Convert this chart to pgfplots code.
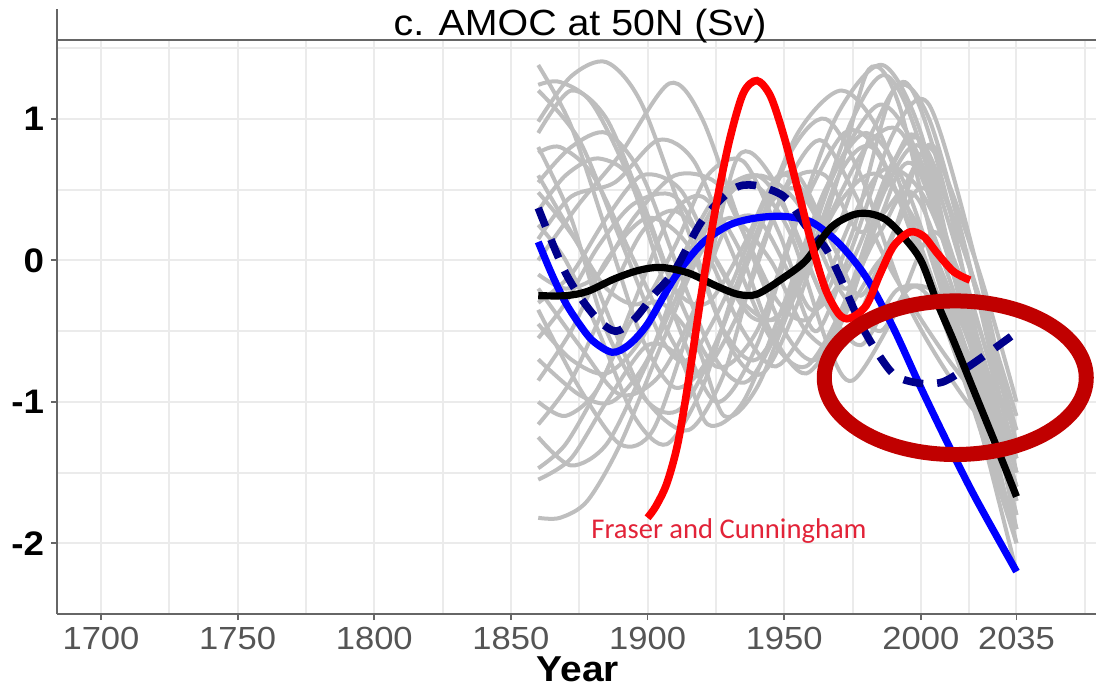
\documentclass[border=0pt]{standalone}
\usepackage{fontspec}
\setmainfont{Liberation Sans}[FakeStretch=1.08]
\newfontfamily\calibri{Carlito}
\usepackage{pgfplots}
\pgfplotsset{compat=1.18}

\definecolor{gridgray}{HTML}{EBEBEB}
\definecolor{axisgray}{HTML}{666666}
\definecolor{labgray}{HTML}{555555}
\definecolor{runs}{HTML}{BEBEBE}
\definecolor{navydash}{HTML}{00008B}
\definecolor{ellred}{HTML}{C00000}
\definecolor{txtred}{RGB}{226,35,56}

\begin{document}
\begin{tikzpicture}
\begin{axis}[
  at={(28.5pt,36.5pt)}, anchor=south west,
  scale only axis, width=519.5pt, height=287pt,
  xmin=1683.9, xmax=2064.1, ymin=-2.5, ymax=1.557,
  axis lines*=left,
  axis line style={-, axisgray, line width=0.9pt},
  xtick={1700,1750,1800,1850,1900,1950,2000,2035},
  xticklabels={1700,1750,1800,1850,1900,1950,2000,2035},
  ytick={-2,-1,0,1},
  yticklabels={-2,-1,0,1},
  minor xtick={1725,1775,1825,1875,1925,1975,2017.5,2060},
  minor ytick={-2.5,-1.5,-0.5,0.5,1.5},
  grid=both,
  major grid style={gridgray, line width=1pt},
  minor grid style={gridgray, line width=1pt},
  tick align=outside, major tick length=3pt, minor tick length=0pt,
  tick style={axisgray, line width=0.9pt},
  xticklabel style={font=\fontsize{16}{17}\selectfont, text=labgray},
  yticklabel style={font=\fontsize{17}{18}\selectfont\bfseries, text=black},
  clip=false,
  every axis plot/.append style={no markers, smooth},
]
% model runs
\addplot[runs, line width=2pt] coordinates {(1860,1.38)(1872,0.95)(1885,0.2)(1898,-0.55)(1910,-0.9)(1922,-0.7)(1937,0.0)(1952,0.75)(1965,1.0)(1978,0.6)(1995,-0.3)(2015,-0.95)(2035,-1.4)};
\addplot[runs, line width=2pt] coordinates {(1860,1.24)(1868,1.26)(1880,1.1)(1895,0.5)(1910,-0.4)(1925,-1.0)(1940,-0.6)(1955,0.3)(1970,1.05)(1986,1.38)(2000,0.9)(2015,-0.3)(2035,-1.8)};
\addplot[runs, line width=2pt] coordinates {(1860,1.2)(1875,0.85)(1890,0.15)(1905,-0.55)(1915,-0.7)(1930,-0.2)(1945,0.5)(1955,0.6)(1968,0.1)(1978,-0.25)(1990,0.2)(2003,0.8)(2020,0.0)(2035,-1.0)};
\addplot[runs, line width=2pt] coordinates {(1860,0.98)(1872,1.3)(1885,1.4)(1898,1.1)(1915,0.2)(1930,-0.6)(1942,-0.8)(1955,-0.3)(1970,0.6)(1981,1.35)(1992,1.1)(2010,-0.3)(2035,-1.7)};
\addplot[runs, line width=2pt] coordinates {(1860,0.8)(1872,0.3)(1885,-0.5)(1900,-1.0)(1912,-1.05)(1925,-0.6)(1940,0.2)(1955,0.9)(1971,1.2)(1985,0.9)(2000,0.1)(2018,-0.9)(2035,-1.9)};
\addplot[runs, line width=2pt] coordinates {(1860,0.76)(1868,0.8)(1880,0.6)(1895,0.0)(1910,-0.6)(1920,-0.8)(1935,-0.3)(1950,0.5)(1963,0.85)(1975,0.5)(1990,-0.1)(2010,-0.7)(2035,-1.3)};
\addplot[runs, line width=2pt] coordinates {(1860,0.55)(1872,0.8)(1885,0.9)(1898,0.6)(1912,-0.1)(1925,-0.7)(1937,-0.85)(1952,-0.3)(1968,0.6)(1985,1.1)(2000,0.7)(2017,-0.4)(2035,-1.6)};
\addplot[runs, line width=2pt] coordinates {(1860,0.48)(1875,0.1)(1888,-0.5)(1900,-1.0)(1915,-1.2)(1928,-0.8)(1940,0.0)(1952,0.55)(1965,0.6)(1978,0.2)(1993,0.5)(2005,0.8)(2020,-0.2)(2035,-1.2)};
\addplot[runs, line width=2pt] coordinates {(1860,0.35)(1870,0.6)(1882,0.72)(1895,0.55)(1910,-0.2)(1925,-0.75)(1940,-0.5)(1955,0.3)(1972,0.9)(1985,0.75)(2000,0.0)(2017,-0.9)(2035,-1.9)};
\addplot[runs, line width=2pt] coordinates {(1860,0.15)(1872,0.45)(1888,0.55)(1904,0.85)(1917,0.7)(1930,0.1)(1945,-0.55)(1958,-0.75)(1972,-0.3)(1987,0.5)(2000,0.8)(2017,0.0)(2035,-1.1)};
\addplot[runs, line width=2pt] coordinates {(1860,0.0)(1875,0.4)(1890,0.75)(1908,1.25)(1920,1.0)(1935,0.2)(1950,-0.5)(1962,-0.7)(1975,-0.2)(1988,0.6)(2000,0.85)(2017,0.0)(2035,-1.3)};
\addplot[runs, line width=2pt] coordinates {(1860,-0.1)(1870,-0.2)(1882,-0.1)(1895,0.3)(1910,0.6)(1925,0.55)(1935,0.2)(1948,-0.3)(1960,-0.4)(1975,0.2)(1990,1.2)(2003,1.0)(2020,-0.2)(2035,-1.5)};
\addplot[runs, line width=2pt] coordinates {(1860,-0.2)(1875,-0.6)(1890,-0.95)(1905,-0.8)(1920,-0.2)(1933,0.73)(1945,0.6)(1958,0.0)(1970,-0.4)(1985,0.0)(2000,0.2)(2018,-0.6)(2035,-1.6)};
\addplot[runs, line width=2pt] coordinates {(1860,-0.3)(1872,-0.1)(1885,0.3)(1898,0.6)(1912,0.5)(1925,0.0)(1938,-0.4)(1950,-0.35)(1965,0.25)(1980,0.8)(1993,0.9)(2010,0.1)(2035,-1.8)};
\addplot[runs, line width=2pt] coordinates {(1860,-0.45)(1872,-0.7)(1885,-0.8)(1898,-0.55)(1912,0.0)(1925,0.45)(1940,0.6)(1952,0.3)(1965,-0.3)(1978,-0.6)(1992,-0.2)(2010,-0.3)(2035,-1.2)};
\addplot[runs, line width=2pt] coordinates {(1860,-0.55)(1870,-0.3)(1882,0.1)(1895,0.4)(1910,0.45)(1923,0.0)(1935,-0.5)(1947,-0.75)(1960,-0.4)(1975,0.3)(1988,0.65)(2005,0.3)(2035,-1.5)};
\addplot[runs, line width=2pt] coordinates {(1860,-0.7)(1875,-0.95)(1887,-1.0)(1900,-0.7)(1912,-0.1)(1925,0.4)(1938,0.55)(1952,0.2)(1966,-0.6)(1975,-0.85)(1990,-0.4)(2005,0.2)(2020,-0.4)(2035,-1.4)};
\addplot[runs, line width=2pt] coordinates {(1860,-0.85)(1872,-0.5)(1885,0.0)(1900,0.3)(1915,0.1)(1928,-0.5)(1940,-0.7)(1955,-0.2)(1970,0.6)(1982,0.8)(1995,0.3)(2015,-0.8)(2035,-2.0)};
\addplot[runs, line width=2pt] coordinates {(1860,-1.0)(1870,-1.1)(1882,-0.9)(1895,-0.3)(1908,0.3)(1920,0.45)(1933,0.1)(1945,-0.5)(1958,-0.8)(1972,-0.4)(1985,0.3)(2000,0.6)(2035,-1.7)};
\addplot[runs, line width=2pt] coordinates {(1860,-1.16)(1872,-0.85)(1885,-0.3)(1898,0.2)(1910,0.35)(1922,0.1)(1935,-0.3)(1948,-0.4)(1960,0.2)(1975,1.0)(1988,1.3)(2003,0.6)(2035,-2.0)};
\addplot[runs, line width=2pt] coordinates {(1860,-1.25)(1872,-1.45)(1885,-1.3)(1898,-0.8)(1912,-0.2)(1925,0.35)(1940,0.6)(1955,0.4)(1970,-0.2)(1985,-0.5)(2000,-0.2)(2035,-1.2)};
\addplot[runs, line width=2pt] coordinates {(1860,-1.47)(1870,-1.3)(1882,-0.9)(1895,-0.4)(1905,-0.3)(1918,-0.6)(1928,-1.1)(1940,-0.9)(1955,-0.2)(1970,0.4)(1985,0.6)(2005,0.0)(2035,-1.7)};
\addplot[runs, line width=2pt] coordinates {(1860,-1.55)(1872,-1.4)(1885,-1.0)(1900,-0.6)(1912,-0.7)(1922,-1.16)(1935,-1.0)(1950,-0.3)(1965,0.5)(1980,0.9)(1995,0.5)(2015,-0.7)(2035,-2.2)};
\addplot[runs, line width=2pt] coordinates {(1860,-1.82)(1868,-1.82)(1878,-1.7)(1890,-1.3)(1905,-0.6)(1918,0.0)(1930,0.3)(1945,0.0)(1958,-0.5)(1972,-0.6)(1988,0.1)(2002,0.5)(2020,-0.5)(2035,-1.5)};
\addplot[runs, line width=2pt] coordinates {(1860,0.25)(1870,0.0)(1882,-0.5)(1895,-1.1)(1907,-1.3)(1920,-0.9)(1932,-0.2)(1945,0.4)(1955,0.5)(1968,0.2)(1982,0.9)(1995,1.25)(2010,0.4)(2035,-1.9)};
\addplot[runs, line width=2pt] coordinates {(1860,0.6)(1872,0.2)(1885,-0.2)(1898,-0.3)(1910,0.1)(1922,0.6)(1935,0.7)(1948,0.2)(1960,-0.35)(1975,0.0)(1990,0.7)(2002,0.75)(2035,-1.4)};
\addplot[runs, line width=2pt] coordinates {(1860,-0.35)(1875,-0.9)(1890,-1.3)(1902,-1.2)(1915,-0.5)(1928,0.2)(1940,0.3)(1952,-0.1)(1962,-0.5)(1975,0.1)(1990,0.9)(2003,1.1)(2020,0.0)(2035,-1.3)};
\addplot[runs, line width=2pt] coordinates {(1860,0.9)(1872,1.2)(1885,1.0)(1898,0.4)(1910,-0.2)(1922,-0.3)(1935,0.1)(1948,0.6)(1960,0.4)(1972,-0.2)(1985,0.2)(2000,0.4)(2035,-1.6)};
% blue
\addplot[blue, line width=3.6pt] coordinates {(1860,0.13)(1865,-0.1)(1870,-0.3)(1875,-0.45)(1880,-0.57)(1887,-0.65)(1893,-0.6)(1900,-0.45)(1910,-0.12)(1920,0.12)(1930,0.25)(1940,0.3)(1950,0.31)(1960,0.27)(1970,0.12)(1980,-0.12)(1990,-0.48)(2000,-0.9)(2010,-1.3)(2020,-1.68)(2035,-2.2)};
% navy dashed
\addplot[navydash, line width=3.8pt, dash pattern=on 10pt off 7pt] coordinates {(1860,0.37)(1870,-0.09)(1880,-0.38)(1888,-0.5)(1895,-0.42)(1902,-0.25)(1910,-0.07)(1920,0.28)(1931,0.5)(1939,0.53)(1950,0.45)(1958,0.24)(1965,0.09)(1970,-0.1)(1978,-0.45)(1985,-0.68)(1991,-0.82)(2000,-0.87)(2008,-0.86)(2016,-0.77)(2025,-0.65)(2035,-0.51)};
% black
\addplot[black, line width=3.6pt] coordinates {(1860,-0.25)(1870,-0.25)(1878,-0.22)(1888,-0.13)(1897,-0.07)(1905,-0.05)(1915,-0.09)(1925,-0.18)(1933,-0.24)(1940,-0.24)(1950,-0.12)(1958,0.0)(1967,0.23)(1975,0.32)(1981,0.33)(1987,0.29)(1993,0.18)(2000,0.0)(2006,-0.3)(2012,-0.57)(2020,-0.95)(2028,-1.33)(2035,-1.67)};
% Fraser and Cunningham
\addplot[red, line width=3.8pt] coordinates {(1900,-1.82)(1903,-1.74)(1907,-1.58)(1911,-1.3)(1915,-0.85)(1920,-0.2)(1925,0.38)(1930,0.85)(1935,1.18)(1940,1.27)(1945,1.16)(1950,0.87)(1955,0.5)(1960,0.12)(1965,-0.2)(1970,-0.38)(1974,-0.41)(1980,-0.32)(1985,-0.1)(1990,0.1)(1996,0.2)(2001,0.17)(2006,0.05)(2012,-0.08)(2018,-0.14)};
\draw[ellred, line width=7.5pt] (axis cs:2012.6,-0.83) ellipse [x radius=65.5pt, y radius=38.4pt];
\end{axis}
\draw[axisgray, line width=1pt] (28.5pt,323.5pt) -- (548pt,323.5pt);
\draw[axisgray, line width=0.9pt] (28.5pt,323.5pt) -- (28.5pt,339pt);
\node[anchor=base, font=\fontsize{18.2}{20}\selectfont, inner sep=0pt] at (290pt,325.5pt) {c. AMOC at 50N (Sv)};
\node[anchor=base, inner sep=0pt, font=\fontsize{18}{20}\selectfont\bfseries] at (289pt,3pt) {Year};
\node[anchor=base west, inner sep=0pt, text=txtred, font=\calibri\fontsize{14.3}{16}\selectfont] at (295.5pt,74.5pt) {Fraser and Cunningham};
\pgfresetboundingbox
\path[use as bounding box] (0,0) rectangle (548pt,343.5pt);
\end{tikzpicture}
\end{document}
